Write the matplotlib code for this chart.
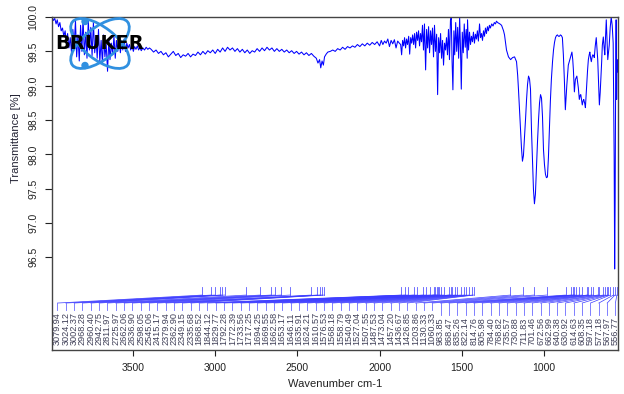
"""IR spectrum (OPUS style export) with peak pick labels."""
import matplotlib
matplotlib.use('Agg')
import matplotlib.pyplot as plt
import matplotlib.transforms as mtransforms
from matplotlib.patches import Ellipse, Circle

plt.rcParams['font.family'] = ['Liberation Sans', 'DejaVu Sans']

# spectrum: wavenumber (cm-1) and transmittance (%)
# 3990-3400: noisy O-H / water vapour region
wn_oh = [3992, 3984, 3976, 3968, 3961, 3953, 3945, 3937, 3929, 3921, 3913, 3905, 3898, 3890,
         3882, 3874, 3866, 3858, 3850, 3843, 3835, 3827, 3819, 3811, 3804, 3796, 3788, 3780,
         3772, 3765, 3757, 3749, 3741, 3733, 3725, 3718, 3710, 3702, 3694, 3686, 3679, 3671,
         3663, 3655, 3647, 3640, 3632, 3624, 3616, 3608, 3601, 3593, 3585, 3577, 3569, 3562,
         3554, 3546, 3538, 3530, 3522, 3514, 3506, 3498, 3490, 3482, 3474, 3466, 3458, 3450,
         3440, 3430, 3420, 3410, 3400]
tr_oh = [100.00, 99.95, 99.98, 99.90, 99.96, 99.86, 99.92, 99.80, 99.84, 99.72, 99.80, 99.62,
         99.76, 99.55, 99.70, 99.48, 99.82, 99.58, 99.95, 99.42, 99.74, 99.36, 99.88, 99.50,
         99.99, 99.45, 99.78, 99.40, 99.96, 99.52, 99.85, 99.44, 99.92, 99.48, 99.70, 99.40,
         99.82, 99.35, 99.66, 99.32, 99.74, 99.42, 99.60, 99.21, 99.68, 99.38, 99.62, 99.45,
         99.72, 99.40, 99.66, 99.50, 99.70, 99.48, 99.64, 99.52, 99.68, 99.50, 99.62, 99.55,
         99.60, 99.52, 99.58, 99.50, 99.57, 99.53, 99.58, 99.52, 99.56, 99.51, 99.55, 99.52,
         99.56, 99.53, 99.55]

# 3390-2300: flat wavy baseline with the CO2 dip
wn_mid = [3390, 3375, 3360, 3345, 3330, 3315, 3300, 3285, 3270, 3255, 3240, 3225, 3210, 3195,
          3180, 3165, 3150, 3135, 3120, 3105, 3090, 3075, 3060, 3045, 3030, 3015, 3000, 2985,
          2970, 2955, 2940, 2925, 2910, 2895, 2880, 2865, 2850, 2835, 2820, 2805, 2790, 2775,
          2760, 2745, 2730, 2715, 2700, 2685, 2670, 2655, 2640, 2625, 2610, 2595, 2580, 2565,
          2550, 2535, 2520, 2505, 2490, 2475, 2460, 2445, 2430, 2415, 2400, 2385, 2375, 2365,
          2358, 2350, 2342, 2335, 2325, 2315, 2300]
tr_mid = [99.53, 99.49, 99.52, 99.47, 99.50, 99.45, 99.48, 99.42, 99.46, 99.50, 99.44, 99.47,
          99.41, 99.45, 99.43, 99.47, 99.42, 99.46, 99.44, 99.49, 99.45, 99.50, 99.46, 99.51,
          99.48, 99.52, 99.47, 99.53, 99.49, 99.55, 99.50, 99.56, 99.52, 99.55, 99.50, 99.54,
          99.49, 99.53, 99.48, 99.52, 99.47, 99.51, 99.49, 99.54, 99.50, 99.55, 99.51, 99.56,
          99.52, 99.55, 99.50, 99.54, 99.50, 99.53, 99.49, 99.52, 99.48, 99.51, 99.47, 99.50,
          99.46, 99.49, 99.45, 99.48, 99.44, 99.47, 99.43, 99.40, 99.33, 99.38, 99.26, 99.36,
          99.30, 99.42, 99.46, 99.49, 99.50]

# 2285-1880: slowly rising
wn_rise = [2285, 2270, 2255, 2240, 2225, 2210, 2195, 2180, 2165, 2150, 2135, 2120, 2105, 2090,
           2075, 2060, 2045, 2030, 2015, 2000, 1990, 1980, 1970, 1960, 1950, 1940, 1930, 1920,
           1910, 1900, 1890, 1880]
tr_rise = [99.52, 99.50, 99.54, 99.52, 99.56, 99.53, 99.57, 99.55, 99.58, 99.56, 99.60, 99.57,
           99.61, 99.58, 99.62, 99.59, 99.63, 99.60, 99.64, 99.58, 99.66, 99.60, 99.65, 99.62,
           99.68, 99.57, 99.66, 99.61, 99.67, 99.55, 99.65, 99.62]

# 1872-1268: water vapour bending noise
wn_h2o = [1872, 1866, 1860, 1854, 1848, 1842, 1836, 1830, 1823, 1817, 1811, 1805, 1799, 1793,
          1787, 1781, 1775, 1769, 1763, 1757, 1751, 1745, 1739, 1733, 1727, 1720, 1714, 1708,
          1702, 1696, 1690, 1684, 1678, 1672, 1666, 1660, 1653, 1647, 1641, 1635, 1629, 1623,
          1617, 1611, 1605, 1599, 1593, 1587, 1581, 1575, 1569, 1564, 1559, 1554, 1548, 1543,
          1537, 1531, 1525, 1519, 1513, 1508, 1503, 1497, 1491, 1485, 1479, 1473, 1467, 1465,
          1459, 1453, 1447, 1441, 1435, 1429, 1423, 1417, 1411, 1405, 1399, 1392, 1386, 1380,
          1374, 1368, 1362, 1356, 1350, 1344, 1338, 1332, 1326, 1318, 1310, 1302, 1295, 1289,
          1282, 1275, 1268]
tr_h2o = [99.60, 99.45, 99.66, 99.58, 99.70, 99.55, 99.68, 99.60, 99.72, 99.46, 99.70, 99.62,
          99.74, 99.60, 99.76, 99.55, 99.78, 99.66, 99.80, 99.58, 99.76, 99.64, 99.88, 99.52,
          99.90, 99.23, 99.82, 99.55, 99.86, 99.48, 99.80, 99.60, 99.84, 99.42, 99.88, 99.50,
          99.75, 98.87, 99.70, 99.48, 99.76, 99.40, 99.66, 99.30, 99.62, 99.52, 99.70, 99.45,
          99.82, 99.38, 99.95, 100.00, 99.35, 98.94, 99.80, 99.45, 99.92, 99.50, 99.85, 99.40,
          100.00, 99.55, 98.95, 99.78, 99.48, 99.90, 99.56, 99.82, 99.40, 99.96, 99.52, 99.78,
          99.60, 99.72, 99.64, 99.78, 99.62, 99.75, 99.68, 99.80, 99.65, 99.90, 99.70, 99.76,
          99.66, 99.80, 99.72, 99.84, 99.76, 99.86, 99.80, 99.88, 99.84, 99.90, 99.87, 99.92,
          99.90, 99.94, 99.92, 99.91, 99.90]

# 1258-550: fingerprint region
wn_fp = [1258, 1246, 1240, 1228, 1216, 1203, 1191, 1179, 1167, 1160, 1155, 1149, 1143, 1137,
         1131, 1125, 1119, 1112, 1106, 1100, 1094, 1088, 1082, 1076, 1070, 1064, 1058, 1052,
         1046, 1040, 1033, 1027, 1021, 1015, 1009, 1003, 997, 991, 985, 979, 973, 967, 961,
         955, 948, 942, 936, 930, 924, 918, 912, 906, 900, 894, 888, 882, 876, 870, 865, 861,
         856, 852, 845, 839, 834, 830, 825, 821, 815, 809, 804, 800, 795, 791, 785, 780, 776,
         771, 767, 762, 758, 752, 748, 744, 740, 735, 730, 725, 721, 716, 712, 707, 703, 698,
         694, 688, 682, 678, 673, 668, 663, 658, 654, 649, 645, 639, 634, 630, 625, 621, 616,
         612, 607, 603, 597, 591, 585, 579, 575, 573, 570, 567, 564, 561, 558, 555, 551]
tr_fp = [99.88, 99.80, 99.74, 99.52, 99.42, 99.38, 99.41, 99.42, 99.35, 99.15, 98.94, 98.65,
         98.36, 98.10, 97.90, 97.98, 98.22, 98.52, 98.80, 99.02, 99.14, 99.10, 98.95, 98.36,
         97.90, 97.49, 97.28, 97.42, 97.78, 98.15, 98.51, 98.75, 98.87, 98.82, 98.55, 98.07,
         97.85, 97.71, 97.66, 97.67, 97.95, 98.36, 98.78, 99.09, 99.35, 99.52, 99.63, 99.70,
         99.73, 99.74, 99.72, 99.72, 99.74, 99.73, 99.70, 99.45, 99.09, 98.65, 98.85, 99.01,
         99.18, 99.30, 99.36, 99.41, 99.46, 99.49, 99.38, 99.23, 98.91, 99.09, 99.12, 99.14,
         99.05, 98.97, 98.80, 98.86, 98.87, 98.78, 98.72, 98.78, 98.80, 98.74, 98.68, 98.85,
         99.01, 99.22, 99.38, 99.45, 99.49, 99.40, 99.35, 99.42, 99.45, 99.44, 99.41, 99.58,
         99.70, 99.55, 99.38, 99.05, 98.72, 98.90, 99.09, 99.35, 99.59, 99.71, 99.55, 99.45,
         99.75, 99.96, 99.65, 99.38, 99.50, 99.59, 99.85, 100.00, 99.88, 99.62, 98.60, 97.93,
         96.33, 97.35, 99.09, 99.96, 98.80, 99.38, 99.20]

# picked peaks, in the order they are labelled below the trace
peak_labels = ['3079.94', '3024.12', '3002.37', '2968.28', '2960.40', '2942.75', '2811.97',
               '2725.97', '2662.06', '2636.90', '2598.05', '2545.06', '2415.17', '2379.94',
               '2362.90', '2349.15', '2335.68',
               '1868.52', '1844.12', '1829.77', '1792.28', '1772.39', '1733.56', '1717.25',
               '1694.25', '1669.55', '1662.58', '1653.17', '1646.11', '1635.91', '1624.21',
               '1610.57', '1576.53', '1568.18', '1558.79', '1540.49', '1527.04', '1507.55',
               '1487.53', '1473.04', '1457.20', '1436.67', '1426.85',
               '1203.86', '1130.33', '1060.33', '983.85', '868.47', '835.26', '822.14',
               '814.76', '805.98', '784.40', '768.82', '735.57', '730.88', '711.83', '701.46',
               '672.56', '662.99', '640.38', '630.92', '614.63', '608.35', '597.18', '577.18',
               '567.97', '556.77']

x_ticks = [3500, 3000, 2500, 2000, 1500, 1000]
y_ticks = [96.5, 97.0, 97.5, 98.0, 98.5, 99.0, 99.5, 100.0]

wn = wn_oh + wn_mid + wn_rise + wn_h2o + wn_fp
tr = tr_oh + tr_mid + tr_rise + tr_h2o + tr_fp

fig = plt.figure(figsize=(6.24, 3.94), dpi=100)
ax = fig.add_axes([0.0833, 0.1117, 0.907, 0.845])

ax.plot(wn, tr, color='#0000ff', linewidth=0.75)
ax.set_xlim(3993, 550)
ax.set_ylim(95.15, 100.0)

ax.set_xticks(x_ticks)
ax.set_xticklabels([str(v) for v in x_ticks])
ax.set_yticks(y_ticks)
ax.set_yticklabels([f'{v:.1f}' for v in y_ticks])
ax.tick_params(axis='x', length=4.5, width=0.8, pad=5, labelsize=7.5, colors='#222222')
ax.tick_params(axis='y', length=5, width=0.8, pad=5, labelsize=7.5, colors='#222222',
               labelrotation=90)
for lab in ax.get_yticklabels():
    lab.set_va('center')
for sp in ax.spines.values():
    sp.set_color('#444444')
    sp.set_linewidth(1.0)

ax.set_xlabel('Wavenumber cm-1', fontsize=8, color='#222222')
ax.set_ylabel('Transmittance [%]', fontsize=8, color='#222233')
ax.yaxis.set_label_coords(-0.054, 0.637)

# peak pick markers: tick at the peak, slanted leader, label at the bottom
trans = mtransforms.blended_transform_factory(ax.transData, ax.transAxes)
x0, x1 = ax.get_xlim()
n = len(peak_labels)
fs = 6.6
em = fs * 100 / 72 / 333.0   # one em in axes fraction (vertical)
for i, lab in enumerate(peak_labels):
    f = 0.0097 + i * (0.9956 - 0.0097) / (n - 1)
    lx = x0 + f * (x1 - x0)
    px = float(lab)
    ax.plot([px, px], [0.19, 0.165], transform=trans, color='#5a5aff', lw=0.6, clip_on=False)
    ax.plot([px, lx], [0.165, 0.141], transform=trans, color='#3c3cff', lw=0.5, clip_on=False)
    top = 0.015 + ((len(lab) - 1) * 0.556 + 0.278) * em + 0.006
    ax.plot([lx, lx], [0.141, top], transform=trans, color='#6a6aff', lw=0.6, clip_on=False)
    ax.text(lx, 0.015, lab, transform=trans, rotation=90, ha='center', va='bottom',
            fontsize=fs, color='#404058')

# Bruker logo in the top left corner
logo = fig.add_axes([60 / 624, (394 - 72) / 394, 80 / 624, 57 / 394])
logo.set_xlim(-40, 40)
logo.set_ylim(-28.5, 28.5)
logo.axis('off')
logo.patch.set_visible(False)
for ang in (38, -38):
    logo.add_patch(Ellipse((0, 0), 70, 32, angle=ang, fill=False, ec='#3090e0', lw=2.0))
logo.add_patch(Circle((-15, 22), 3, color='#3090e0'))
logo.add_patch(Circle((-15, -22), 3, color='#3090e0'))
logo.text(0, 0, 'BRUKER', ha='center', va='center', fontsize=14, fontweight='bold',
          family='DejaVu Sans', color='black', clip_on=False)

fig.savefig('out.png', dpi=100)
